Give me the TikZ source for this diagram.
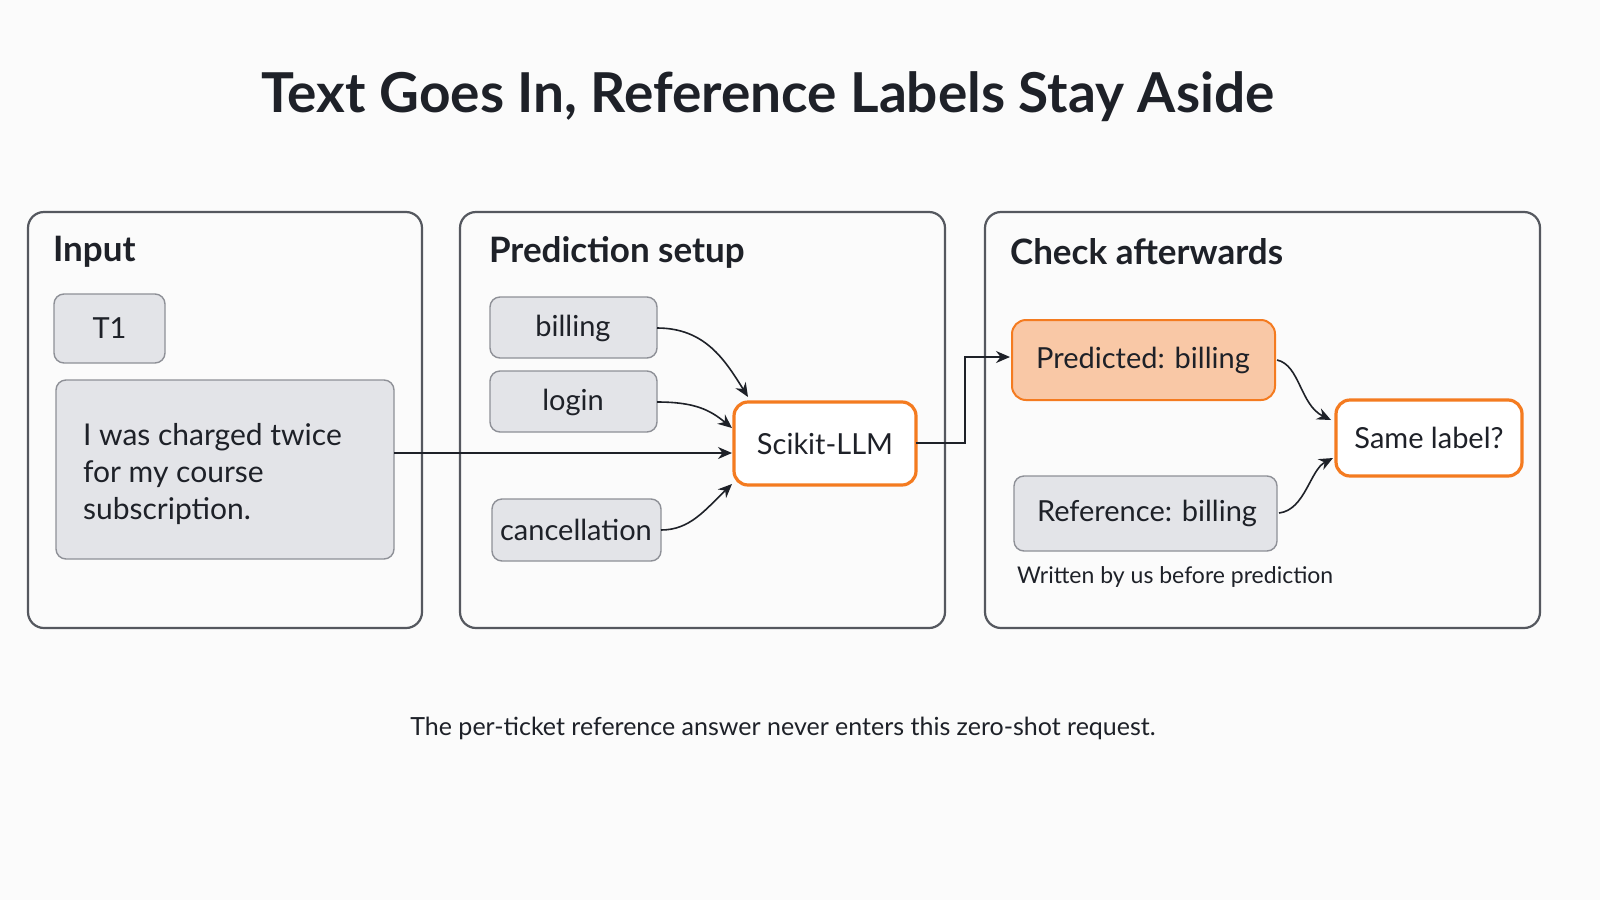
\documentclass[tikz,border=0pt]{standalone}
\usepackage{fontspec}
\setmainfont{Lato}
\usetikzlibrary{arrows.meta}
\definecolor{panelb}{HTML}{55585F}
\definecolor{boxf}{HTML}{E3E4E8}
\definecolor{boxb}{HTML}{8E9097}
\definecolor{orng}{HTML}{F47B20}
\definecolor{orf}{HTML}{F9C8A6}
\definecolor{ink}{HTML}{1E2128}
\begin{document}
\begin{tikzpicture}[x=0.5pt,y=-0.5pt,
  panel/.style={draw=panelb,line width=1.1pt,rounded corners=8pt},
  box/.style={draw=boxb,fill=boxf,line width=0.7pt,rounded corners=5pt},
  obox/.style={draw=orng,line width=1.6pt,rounded corners=7pt,fill=white},
  ptitle/.style={font=\fontsize{17.5}{20}\selectfont\bfseries,text=ink,anchor=west},
  lab/.style={font=\fontsize{14.5}{17}\selectfont,text=ink},
  conn/.style={draw=ink,line width=0.8pt,-{Stealth[length=7pt,width=6pt]}}]
\fill[white!97!gray] (0,0) rectangle (1600,900);
\useasboundingbox (0,0) rectangle (1600,900);
\node[font=\fontsize{27.5}{32}\selectfont\bfseries,text=ink] (title) at (768,97) {Text Goes In, Reference Labels Stay Aside};
\draw[panel] (28,212) rectangle (422,628);
\draw[panel] (460,212) rectangle (945,628);
\draw[panel] (985,212) rectangle (1540,628);
\node[ptitle] (t1) at (46,252) {Input};
\node[ptitle] (t2) at (482,252) {Prediction setup};
\node[ptitle] (t3) at (1003,252) {Check afterwards};
\draw[box] (54,294) rectangle (165,363);
\node[lab] (T1) at (109.5,328.5) {T1};
\draw[box] (56,380) rectangle (394,559);
\node[lab,anchor=north west,align=left,font=\fontsize{15}{18.5}\selectfont] (txt) at (76,416) {I was charged twice\\for my course\\subscription.};
\coordinate (txe) at (394,453);
\draw[box] (490,297) rectangle (657,358); \node[lab] (bil) at (573,328) {billing}; \coordinate (bile) at (657,328);
\draw[box] (490,371) rectangle (657,432); \node[lab] (log) at (573,402) {login}; \coordinate (loge) at (657,402);
\draw[box] (492,499) rectangle (661,561); \node[lab] (can) at (576,530) {cancellation}; \coordinate (cane) at (661,530);
\draw[obox] (734,402) rectangle (916,485); \node[lab] (sk) at (825,443.5) {Scikit-LLM};
\draw[obox,fill=orf,line width=1pt] (1012,320) rectangle (1275,400); \node[lab] (pred) at (1143,360) {Predicted: billing};
\draw[box] (1014,476) rectangle (1277,551); \node[lab] (ref) at (1147,513) {Reference: billing};
\draw[obox] (1336,400) rectangle (1522,476); \node[lab] (same) at (1429,438) {Same label?};
\node[font=\fontsize{11.5}{14}\selectfont,text=ink,anchor=west] (cap) at (1010,577) {Written by us before prediction};
\node[font=\fontsize{12.5}{15}\selectfont,text=ink] (foot) at (783,728) {The per-ticket reference answer never enters this zero-shot request.};
\draw[conn] (txe) -- (732,453);
\draw[conn] (bile) .. controls (705,328) and (725,360) .. (748,397);
\draw[conn] (loge) .. controls (695,402) and (710,410) .. (732,428);
\draw[conn] (cane) .. controls (690,530) and (705,510) .. (732,484);
\draw[conn] (916,443) -- (965,443) -- (965,357) -- (1010,357);
\draw[conn] (1277,360) .. controls (1300,365) and (1300,405) .. (1331,420);
\draw[conn] (1279,513) .. controls (1305,510) and (1310,470) .. (1333,458);
\end{tikzpicture}
\end{document}
